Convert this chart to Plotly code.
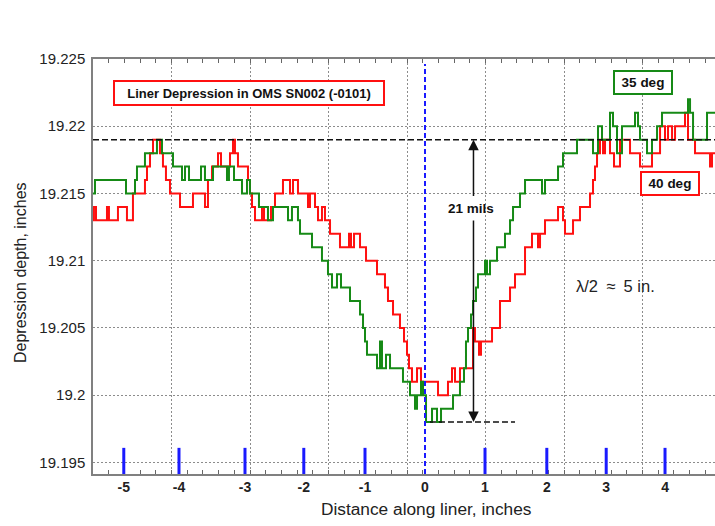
import plotly.graph_objects as go

# ---------------- data ----------------
green_x = [-5.533, -5.5, -4.983, -4.833, -4.8, -4.667, -4.467, -4.383, -4.2, -4.05, -4.0, -3.933,
           -3.733, -3.667, -3.533, -3.3, -3.267, -3.183, -3.05, -2.967, -2.917, -2.767, -2.617,
           -2.533, -2.283, -2.217, -2.117, -2.083, -1.883, -1.717, -1.617, -1.55, -1.467, -1.4,
           -1.25, -1.083, -1.033, -1.0, -0.967, -0.8, -0.75, -0.717, -0.65, -0.583, -0.367, -0.25,
           -0.167, -0.133, -0.067, -0.033, 0.017, 0.117, 0.2, 0.267, 0.467, 0.583, 0.65, 0.683,
           0.717, 0.767, 0.8, 0.85, 0.883, 1.0, 1.033, 1.083, 1.2, 1.333, 1.417, 1.467, 1.583,
           1.667, 1.95, 2.0, 2.217, 2.3, 2.533, 2.8, 2.883, 2.95, 3.083, 3.133, 3.2, 3.283, 3.5,
           3.55, 3.583, 3.7, 3.783, 3.867, 3.95, 4.383, 4.417, 4.467, 4.7, 4.833]
green_y = [19.215, 19.216, 19.215, 19.216, 19.217, 19.218, 19.219, 19.218, 19.217, 19.216, 19.217,
           19.216, 19.217, 19.216, 19.217, 19.216, 19.217, 19.216, 19.215, 19.216, 19.215, 19.214,
           19.213, 19.214, 19.213, 19.214, 19.213, 19.212, 19.211, 19.210, 19.209, 19.208, 19.209,
           19.208, 19.207, 19.206, 19.205, 19.204, 19.203, 19.202, 19.204, 19.202, 19.203, 19.202,
           19.201, 19.200, 19.199, 19.200, 19.201, 19.200, 19.198, 19.199, 19.198, 19.199, 19.200,
           19.201, 19.202, 19.204, 19.205, 19.206, 19.207, 19.208, 19.209, 19.210, 19.209, 19.210,
           19.211, 19.212, 19.213, 19.214, 19.215, 19.216, 19.215, 19.216, 19.217, 19.218, 19.219,
           19.218, 19.220, 19.219, 19.221, 19.220, 19.218, 19.220, 19.221, 19.220, 19.219, 19.218,
           19.219, 19.220, 19.221, 19.222, 19.221, 19.219, 19.221, 19.221]

red_x = [-5.533, -5.517, -5.483, -5.3, -5.267, -5.117, -4.967, -4.867, -4.667, -4.633, -4.583,
         -4.533, -4.417, -4.367, -4.317, -4.25, -4.083, -3.867, -3.667, -3.617, -3.55, -3.45, -3.4,
         -3.25, -3.2, -3.167, -3.117, -2.95, -2.917, -2.883, -2.833, -2.717, -2.683, -2.567, -2.5,
         -2.367, -2.25, -2.2, -2.117, -1.95, -1.917, -1.833, -1.783, -1.717, -1.667, -1.583,
         -1.417, -1.267, -1.233, -1.183, -1.083, -0.983, -0.8, -0.667, -0.617, -0.533, -0.417,
         -0.35, -0.3, -0.267, -0.217, -0.133, -0.067, 0.217, 0.383, 0.45, 0.5, 0.583, 0.8, 0.833,
         0.9, 0.933, 1.117, 1.25, 1.417, 1.5, 1.667, 1.783, 1.883, 1.917, 2.0, 2.217, 2.3, 2.333,
         2.467, 2.583, 2.75, 2.8, 2.833, 2.867, 2.917, 2.967, 3.0, 3.083, 3.15, 3.25, 3.417, 3.583,
         3.783, 3.917, 4.0, 4.05, 4.117, 4.167, 4.333, 4.383, 4.5, 4.75, 4.783, 4.833]
red_y = [19.213, 19.214, 19.213, 19.214, 19.213, 19.214, 19.213, 19.215, 19.216, 19.217, 19.218,
         19.219, 19.218, 19.217, 19.216, 19.215, 19.214, 19.215, 19.214, 19.216, 19.217, 19.218,
         19.217, 19.218, 19.219, 19.218, 19.217, 19.216, 19.215, 19.214, 19.213, 19.214, 19.213,
         19.214, 19.215, 19.216, 19.215, 19.216, 19.215, 19.214, 19.215, 19.214, 19.213, 19.214,
         19.213, 19.212, 19.211, 19.212, 19.211, 19.212, 19.211, 19.210, 19.209, 19.208, 19.207,
         19.206, 19.205, 19.204, 19.203, 19.202, 19.201, 19.202, 19.201, 19.200, 19.201, 19.202,
         19.201, 19.202, 19.205, 19.204, 19.203, 19.204, 19.205, 19.207, 19.208, 19.209, 19.211,
         19.212, 19.211, 19.212, 19.213, 19.214, 19.213, 19.212, 19.213, 19.214, 19.215, 19.216,
         19.217, 19.218, 19.219, 19.218, 19.219, 19.218, 19.217, 19.219, 19.218, 19.217, 19.218,
         19.220, 19.219, 19.220, 19.219, 19.220, 19.221, 19.219, 19.218, 19.217, 19.218, 19.218]

x_tick_labels = ["-5", "-4", "-3", "-2", "-1", "0", "1", "2", "3", "4"]
x_tick_positions = [-5.02, -4.1, -3.0, -2.02, -1.0, 0.0, 1.0, 2.03, 3.02, 4.0]
blue_tick_positions = [-5.02, -4.1, -3.0, -2.02, -1.0, 1.0, 2.03, 3.02, 4.0]

y_tick_vals = [19.195, 19.2, 19.205, 19.21, 19.215, 19.22, 19.225]
y_tick_text = ["19.195", "19.2", "19.205", "19.21", "19.215", "19.22", "19.225"]

reference_level = 19.219   # dashed line (peak level)
bottom_level = 19.198      # dashed line (trough level)
center_x = 0.0             # blue dashed centre line
x_range = [-5.533, 4.833]
y_range = [19.19414, 19.225]
grid_start = -5.533
grid_step = 1.3083

FONT = "Arial, Liberation Sans, sans-serif"
RED = "#ff1010"
GREEN = "#168a16"
GRID = "#8c8c8c"

fig = go.Figure()
fig.add_trace(go.Scatter(x=red_x, y=red_y, mode="lines", line=dict(color=RED, width=2, shape="hv"),
                         name="40 deg", showlegend=False, hoverinfo="skip"))
fig.add_trace(go.Scatter(x=green_x, y=green_y, mode="lines", line=dict(color=GREEN, width=2, shape="hv"),
                         name="35 deg", showlegend=False, hoverinfo="skip"))
# invisible trace to carry the labelled inch axis
fig.add_trace(go.Scatter(x=x_tick_positions, y=[None] * len(x_tick_positions), xaxis="x2",
                         mode="markers", showlegend=False, hoverinfo="skip"))

fig.update_layout(
    width=715, height=526,
    margin=dict(l=93, r=0, t=59, b=52),
    paper_bgcolor="white", plot_bgcolor="white",
    font=dict(family=FONT, color="#222222"),
    xaxis=dict(range=x_range, tick0=grid_start, dtick=grid_step, showticklabels=False,
               showgrid=True, gridcolor=GRID, gridwidth=1, griddash="2px,2px",
               ticks="inside", ticklen=4, tickcolor="#666666",
               minor=dict(ticks="inside", ticklen=4, tick0=grid_start, dtick=grid_step / 5,
                          tickcolor="#666666", showgrid=False),
               showline=True, linecolor="#808080", linewidth=1.5, mirror="ticks",
               zeroline=False),
    xaxis2=dict(range=x_range, overlaying="x", anchor="y", side="bottom", matches="x",
                tickmode="array", tickvals=x_tick_positions, ticktext=x_tick_labels,
                tickfont=dict(family=FONT, size=14, color="#222222", weight="bold"),
                ticks="", showgrid=False, showline=False, zeroline=False, ticklabelstandoff=3),
    yaxis=dict(range=y_range, tickmode="array", tickvals=y_tick_vals, ticktext=y_tick_text,
               tickfont=dict(size=15, color="#222222"),
               showgrid=True, gridcolor=GRID, gridwidth=1, griddash="2px,2px",
               ticks="", showline=True, linecolor="#808080", linewidth=1.5, mirror=False,
               zeroline=False, ticklabelstandoff=3),
)

shapes = []
shapes.append(dict(type="line", xref="x", yref="paper", x0=center_x, x1=center_x, y0=0, y1=0.988,
                   line=dict(color="#1a1aff", width=2, dash="5px,3px")))
shapes.append(dict(type="line", xref="paper", yref="y", x0=0, x1=1, y0=reference_level, y1=reference_level,
                   line=dict(color="#111111", width=1.5, dash="6px,3px")))
shapes.append(dict(type="line", xref="x", yref="y", x0=0.083, x1=1.5, y0=bottom_level, y1=bottom_level,
                   line=dict(color="#111111", width=1.5, dash="6px,3px")))
for p in blue_tick_positions:
    shapes.append(dict(type="line", xref="x", yref="paper", x0=p, x1=p, y0=0, y1=0.063,
                       line=dict(color="#1a1aff", width=3)))
fig.update_layout(shapes=shapes)

ann = []
ann.append(dict(text="<b>Liner Depression in OMS SN002 (-0101)</b>", x=-2.933, y=19.2225,
                xref="x", yref="y", showarrow=False, bgcolor="white", bordercolor=RED,
                borderwidth=2, borderpad=3, width=262, height=16,
                font=dict(family=FONT, size=13, color="#111111")))
ann.append(dict(text="<b>35 deg</b>", x=3.633, y=19.22327, xref="x", yref="y", showarrow=False,
                bgcolor="white", bordercolor=GREEN, borderwidth=2, borderpad=3, width=50, height=15,
                font=dict(family=FONT, size=13.5, color="#111111")))
ann.append(dict(text="<b>40 deg</b>", x=4.083, y=19.21576, xref="x", yref="y", showarrow=False,
                bgcolor="white", bordercolor=RED, borderwidth=2, borderpad=3, width=50, height=15,
                font=dict(family=FONT, size=13.5, color="#111111")))
ann.append(dict(text="<b>21 mils</b>", x=0.767, y=19.2139, xref="x", yref="y", showarrow=False,
                font=dict(family=FONT, size=13.5, color="#111111")))
ann.append(dict(text="", x=0.808, y=reference_level, ax=0.808, ay=19.2147, xref="x", yref="y",
                axref="x", ayref="y", showarrow=True, arrowhead=2, arrowsize=1.4, arrowwidth=1.5,
                arrowcolor="#111111"))
ann.append(dict(text="", x=0.808, y=bottom_level, ax=0.808, ay=19.2131, xref="x", yref="y",
                axref="x", ayref="y", showarrow=True, arrowhead=2, arrowsize=1.4, arrowwidth=1.5,
                arrowcolor="#111111"))
ann.append(dict(text="λ/2\u2002≈\u20025 in.", x=3.167, y=19.20814, xref="x", yref="y", showarrow=False,
                font=dict(family=FONT, size=16.5, color="#222222")))
ann.append(dict(text="Distance along liner, inches", x=0.028, y=-0.0855, xref="x", yref="paper",
                showarrow=False, xanchor="center", yanchor="middle",
                font=dict(family=FONT, size=17.3, color="#222222")))
ann.append(dict(text="Depression depth, inches", x=-0.1174, y=0.4867, xref="paper", yref="paper",
                showarrow=False, textangle=-90, xanchor="center", yanchor="middle",
                font=dict(family=FONT, size=16, color="#222222")))
fig.update_layout(annotations=ann)

# the page's default 8px body margin would shift and clip the figure
fig.write_html("out.html", config={"displayModeBar": False},
               post_script="document.body.style.margin='0';document.body.style.overflow='hidden';")
